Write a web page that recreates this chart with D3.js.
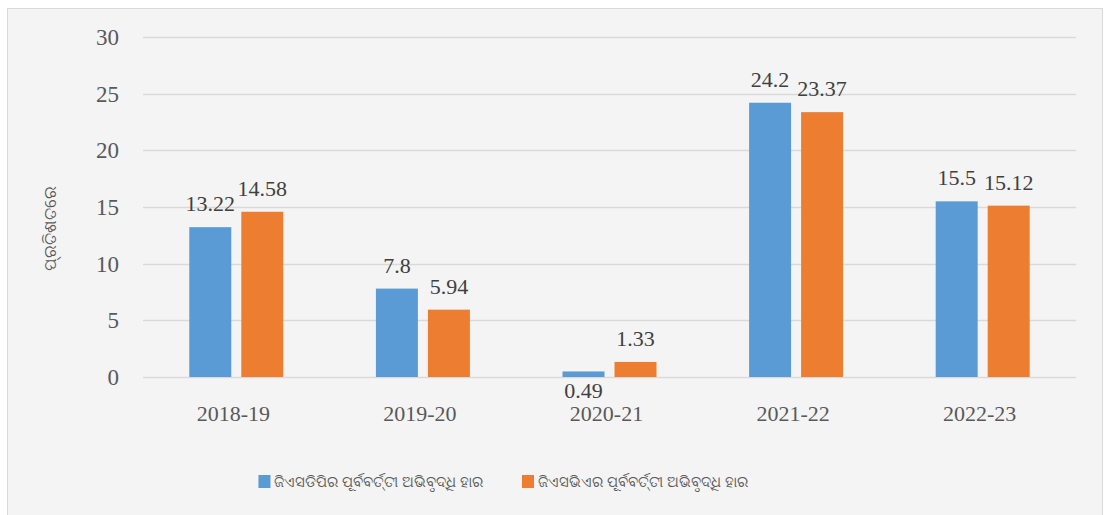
<!DOCTYPE html>
<html>
<head>
<meta charset="utf-8">
<script src="https://cdn.jsdelivr.net/npm/d3@7"></script>
<style>
  body { margin: 0; background: #fff; }
  text { font-family: "Liberation Serif", "Times New Roman", serif; }
  .odia { font-family: "Noto Sans", "DejaVu Sans", sans-serif; }
</style>
</head>
<body>
<svg id="chart" width="1106" height="515"></svg>
<script>
// chart values
const years = ["2018-19", "2019-20", "2020-21", "2021-22", "2022-23"];
const gsdpGrowth = [13.22, 7.8, 0.49, 24.2, 15.5];
const gsvaGrowth = [14.58, 5.94, 1.33, 23.37, 15.12];
const seriesNames = ["ଜିଏସଡିପିର ପୂର୍ବବର୍ତ୍ତୀ ଅଭିବୃଦ୍ଧି ହାର", "ଜିଏସଭିଏର ପୂର୍ବବର୍ତ୍ତୀ ଅଭିବୃଦ୍ଧି ହାର"];
const yTicks = [0, 5, 10, 15, 20, 25, 30];
const yTitle = "ପ୍ରତିଶତରେ";

const colors = ["#5b9bd5", "#ed7d31"];
const series = [gsdpGrowth, gsvaGrowth];

const svg = d3.select("#chart");

// panel
svg.append("rect")
    .attr("x", 7.5).attr("y", 8.5)
    .attr("width", 1095).attr("height", 520)
    .attr("fill", "#f4f4f4").attr("stroke", "#d9d9d9");

const plot = {left: 143, right: 1076, top: 37, bottom: 377};

const x = d3.scaleBand().domain(years).range([plot.left, plot.right]);
const barW = 42, barGap = 10;
const y = d3.scaleLinear().domain([0, 30]).range([plot.bottom, plot.top]);

// gridlines
svg.append("g").selectAll("line")
  .data(yTicks)
  .join("line")
    .attr("x1", plot.left).attr("x2", plot.right)
    .attr("y1", d => Math.round(y(d)) + 0.5).attr("y2", d => Math.round(y(d)) + 0.5)
    .attr("stroke", "#d9d9d9").attr("stroke-width", 1.3);

// y tick labels
svg.append("g").selectAll("text")
  .data(yTicks)
  .join("text")
    .attr("x", 119).attr("y", d => y(d) + 8)
    .attr("text-anchor", "end")
    .attr("font-size", 23).attr("fill", "#595959")
    .text(d => d);

// x labels
svg.append("g").selectAll("text")
  .data(years)
  .join("text")
    .attr("x", d => x(d) + x.bandwidth() / 2 - 3)
    .attr("y", 421)
    .attr("text-anchor", "middle")
    .attr("font-size", 22).attr("fill", "#595959")
    .text(d => d);

// bars + labels
series.forEach((vals, si) => {
  const offset = si === 0 ? -barGap / 2 - barW : barGap / 2;
  const g = svg.append("g");
  const xc = (d, i) => x(years[i]) + x.bandwidth() / 2 + offset;
  g.selectAll("rect")
    .data(vals)
    .join("rect")
      .attr("x", xc)
      .attr("y", d => y(d))
      .attr("width", barW)
      .attr("height", d => y(0) - y(d))
      .attr("fill", colors[si]);
  g.selectAll("text")
    .data(vals)
    .join("text")
      .attr("x", (d, i) => xc(d, i) + barW / 2)
      // labels too short to clear the axis sit below it
      .attr("y", d => d < 1 ? y(0) + 21 : y(d) - 16)
      .attr("text-anchor", "middle")
      .attr("font-size", 22).attr("fill", "#404040")
      .text(d => d);
});

// y axis title
svg.append("text")
    .attr("class", "odia")
    .attr("transform", "translate(56,228) rotate(-90)")
    .attr("text-anchor", "middle")
    .attr("font-size", 17).attr("fill", "#595959")
    .text(yTitle);

// legend
const legend = svg.append("g");
const items = legend.selectAll("g")
  .data(seriesNames)
  .join("g");
items.append("rect")
    .attr("width", 12).attr("height", 13)
    .attr("y", -12)
    .attr("fill", (d, i) => colors[i]);
items.append("text")
    .attr("class", "odia")
    .attr("x", 16)
    .attr("font-size", 14.8).attr("fill", "#595959")
    .text(d => d);
const widths = [];
items.each(function() { widths.push(this.getBBox().width); });
const spacing = 39;
let lx = 503 - (d3.sum(widths) + spacing) / 2;
items.attr("transform", (d, i) => {
  const t = `translate(${lx},487)`;
  lx += widths[i] + spacing;
  return t;
});
</script>
</body>
</html>
